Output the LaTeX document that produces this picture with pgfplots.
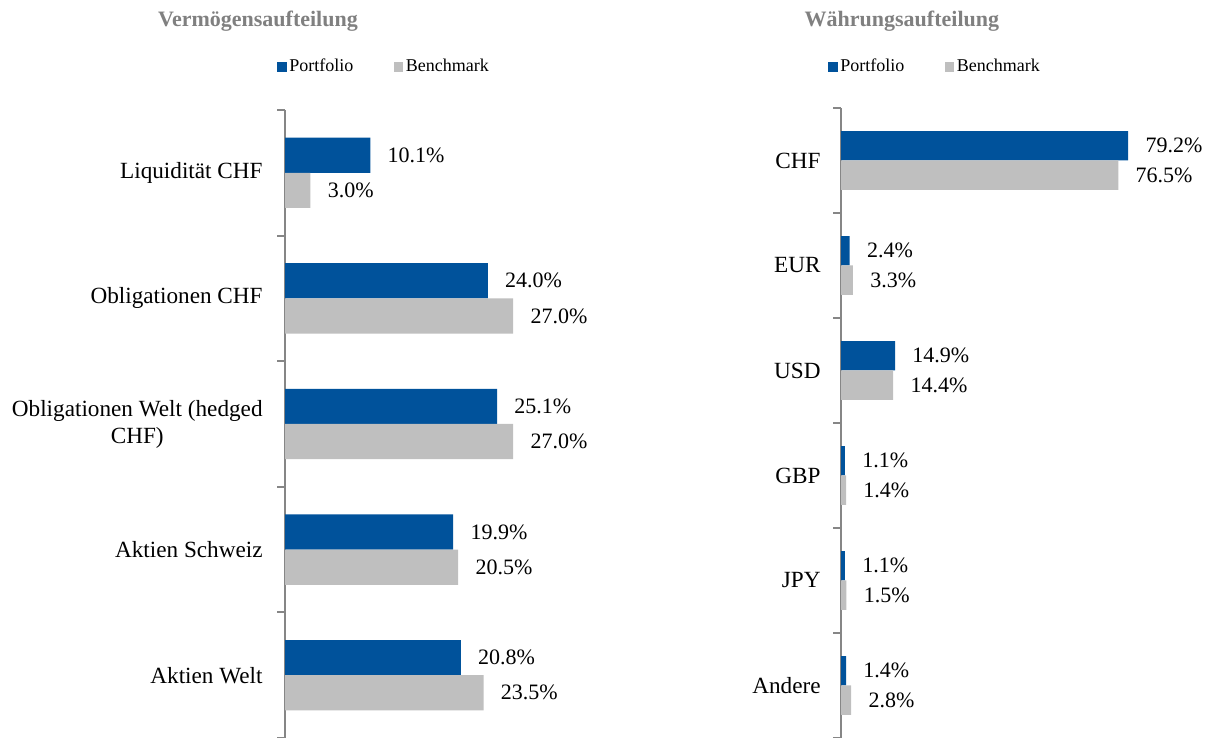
\documentclass[border=0pt]{standalone}
\usepackage{fontspec}
\setmainfont{Liberation Serif}
\usepackage{pgfplots}
\pgfplotsset{compat=1.18}
\definecolor{pblue}{RGB}{0,82,155}
\definecolor{bgray}{RGB}{191,191,191}
\definecolor{tgray}{RGB}{128,128,128}
\definecolor{agray}{RGB}{134,134,134}
\pgfplotsset{
  mybar/.style={
    xbar, scale only axis,
    axis x line=none,
    axis y line*=left,
    axis line style={agray, line width=1pt, -},
    xtick=\empty,
    xmin=0,
    major tick length=0pt,
    minor tick length=4pt,
    tick align=outside,
    minor tick style={agray, line width=1pt},
    y tick label style={font=\fontsize{11.6}{13.5}\selectfont, align=center, inner sep=0pt, xshift=-11pt},
    bar width=0.28,
    /pgf/number format/assume math mode=true,
    nodes near coords={\pgfmathprintnumber[fixed,fixed zerofill,precision=1,assume math mode=true]{\pgfplotspointmeta}\%},
    every node near coord/.append style={font=\fontsize{11}{13}\selectfont, inner sep=0pt, anchor=west, xshift=8.5pt, text=black},
    point meta=explicit,
    clip=false,
    legend columns=2,
    legend style={draw=none, fill=none, inner sep=0pt, font=\fontsize{9}{11}\selectfont,
      nodes={inner sep=1.2pt}, cells={anchor=west},
      /tikz/every even column/.append style={column sep=19pt}},
    legend image code/.code={\fill[##1] (0pt,-2.4pt) rectangle (4.8pt,2.4pt);},
  }
}
\begin{document}
\begin{tikzpicture}
\useasboundingbox (0,0) rectangle (605pt,369pt);
% left chart
\begin{axis}[mybar,
  at={(142.5pt,0pt)}, anchor=south west,
  width=169pt, height=314pt,
  xmax=40,
  ymin=-0.5, ymax=4.5,
  ytick={0,1,2,3,4},
  yticklabels={Aktien Welt, Aktien Schweiz, {Obligationen Welt (hedged\\CHF)}, Obligationen CHF, Liquidität CHF},
  minor ytick={-0.5,0.5,1.5,2.5,3.5,4.5},
  legend style={at={(-0.0237,1.0685)}, anchor=west},
  title={Vermögensaufteilung},
  every axis title/.style={at={(-0.08,1.1417)}, anchor=center, inner sep=0pt, font=\fontsize{11}{13}\selectfont\bfseries, text=tgray},
]
\addplot[fill=pblue, draw=none, bar shift=0.14] coordinates {(20.8,0)[20.8] (19.9,1)[19.9] (25.1,2)[25.1] (24.0,3)[24.0] (10.1,4)[10.1]};
\addplot[fill=bgray, draw=none, bar shift=-0.14] coordinates {(23.5,0)[23.5] (20.5,1)[20.5] (27.0,2)[27.0] (27.0,3)[27.0] (3.0,4)[3.0]};
\legend{Portfolio, Benchmark}
\end{axis}
% right chart
\begin{axis}[mybar,
  at={(420.5pt,0pt)}, anchor=south west,
  width=181.25pt, height=315pt,
  xmax=100,
  ymin=-0.5, ymax=5.5,
  ytick={0,1,2,3,4,5},
  yticklabels={Andere, JPY, GBP, USD, EUR, CHF},
  minor ytick={-0.5,0.5,1.5,2.5,3.5,4.5,5.5},
  y tick label style={xshift=1pt},
  legend style={at={(-0.0359,1.065)}, anchor=west},
  title={Währungsaufteilung},
  every axis title/.style={at={(0.168,1.138)}, anchor=center, inner sep=0pt, font=\fontsize{11}{13}\selectfont\bfseries, text=tgray},
]
\addplot[fill=pblue, draw=none, bar shift=0.14] coordinates {(1.4,0)[1.4] (1.1,1)[1.1] (1.1,2)[1.1] (14.9,3)[14.9] (2.4,4)[2.4] (79.2,5)[79.2]};
\addplot[fill=bgray, draw=none, bar shift=-0.14] coordinates {(2.8,0)[2.8] (1.5,1)[1.5] (1.4,2)[1.4] (14.4,3)[14.4] (3.3,4)[3.3] (76.5,5)[76.5]};
\legend{Portfolio, Benchmark}
\end{axis}
\end{tikzpicture}
\end{document}
